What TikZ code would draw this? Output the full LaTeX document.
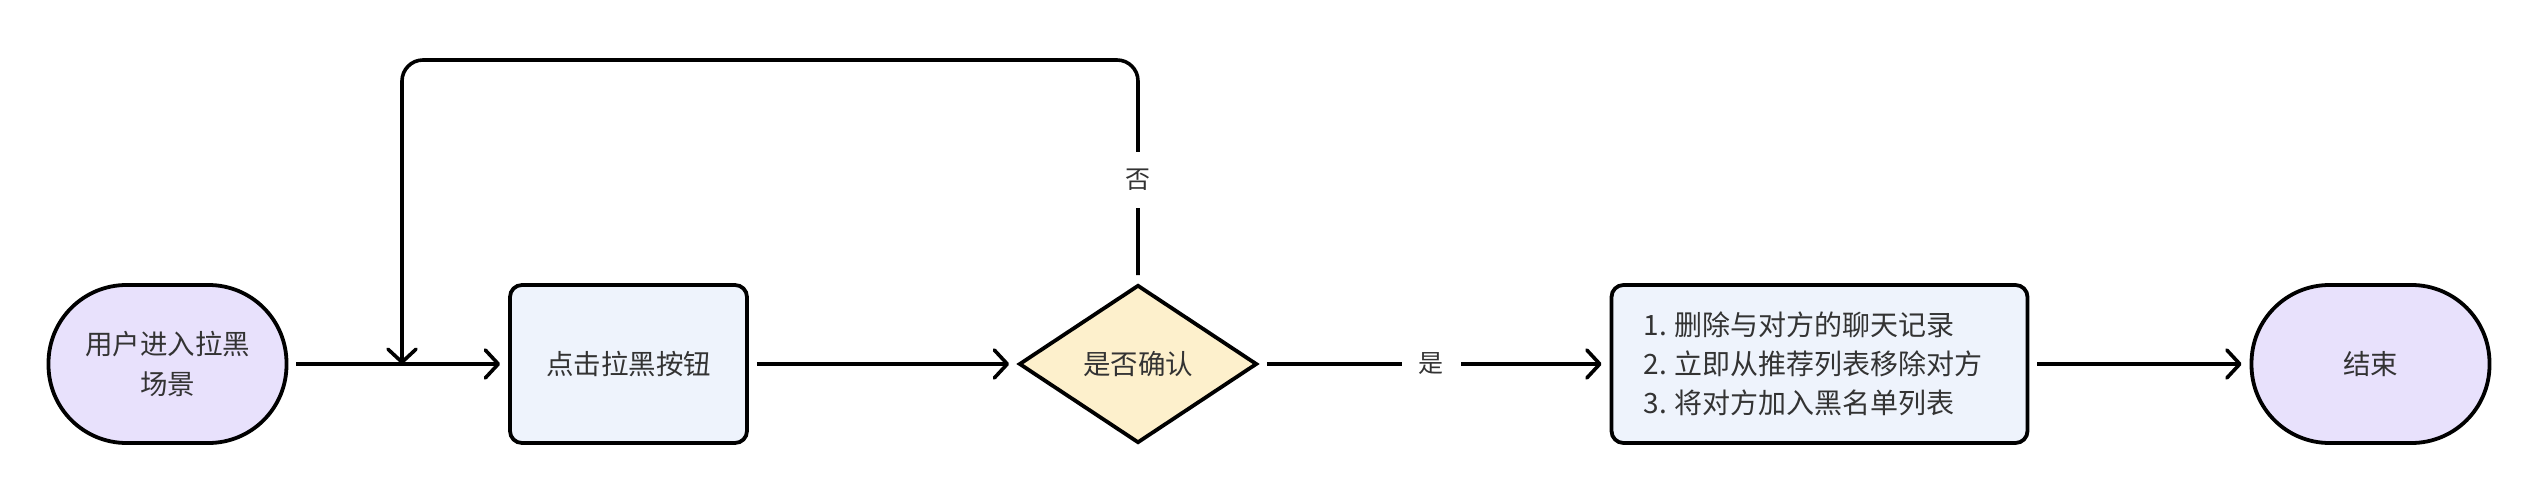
\documentclass[tikz,border=0pt]{standalone}
\usepackage{fontspec}
\setmainfont{Noto Sans CJK SC}
\usetikzlibrary{arrows.meta,shapes.geometric}
\definecolor{txt}{HTML}{333333}
\definecolor{termfill}{HTML}{E8E1FC}
\definecolor{procfill}{HTML}{EEF3FC}
\definecolor{decfill}{HTML}{FDF0CC}
\begin{document}
\begin{tikzpicture}[x=1pt,y=-1pt,
  base/.style={draw=black, line width=3.8pt, text=txt, font=\fontsize{27.5}{40}\selectfont, inner sep=0pt},
  term/.style={base, fill=termfill, minimum width=238pt, minimum height=158pt, rounded corners=78pt, align=center},
  proc/.style={base, fill=procfill, minimum height=158pt, rounded corners=12pt},
  decide/.style={base, diamond, fill=decfill, minimum width=238pt, minimum height=158pt},
  conn/.style={line width=3.6pt, -{Straight Barb[length=13pt,width=28pt,round]}, shorten >=8pt, shorten <=8pt},
  lab/.style={fill=white, text=txt, font=\fontsize{25}{30}\selectfont, inner sep=17pt}]
\useasboundingbox (0,0) rectangle (2540,494);
\node[term] (start) at (167.5,364) {用户进入拉黑\\场景};
\node[proc, minimum width=237pt] (click) at (628.5,364) {点击拉黑按钮};
\node[decide] (dec) at (1138,364) {是否确认};
\node[proc, minimum width=416pt, text width=352pt, align=left, font=\fontsize{28}{39}\selectfont] (act) at (1819.5,364) {1.\hspace{8pt}删除与对方的聊天记录\\2.\hspace{8pt}立即从推荐列表移除对方\\3.\hspace{8pt}将对方加入黑名单列表};
\node[term] (end) at (2370.5,364) {结束};
\coordinate (join) at (402,364);
\draw[conn] (start) -- (click);
\draw[conn] (click) -- (dec);
\draw[conn] (dec) -- node[lab, xshift=-3pt] {是} (act);
\draw[conn] (act) -- (end);
\draw[conn, shorten >=0pt, rounded corners=21pt] (dec.north) -- (1138,60) -- (402,60) -- (join);
\node[lab] (no) at (1138,180) {否};
\end{tikzpicture}
\end{document}
